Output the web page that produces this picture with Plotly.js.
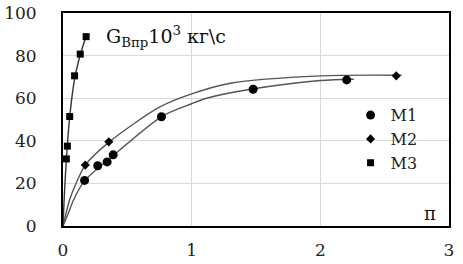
<!DOCTYPE html>
<html><head><meta charset="utf-8">
<script src="https://cdn.plot.ly/plotly-3.0.1.min.js"></script>
<style>html,body{margin:0;padding:0;background:#fff;}#chart{width:463px;height:264px;}</style>
</head><body><div id="chart"></div>
<script>
// Measured points
const m1X = [0.168, 0.27, 0.343, 0.39, 0.765, 1.478, 2.205];
const m1Y = [21.4, 28.3, 30.1, 33.4, 51.3, 64.2, 68.6];
const m2X = [0.173, 0.356, 2.59];
const m2Y = [28.6, 39.5, 70.5];
const m3X = [0.026, 0.034, 0.052, 0.09, 0.134, 0.18];
const m3Y = [31.5, 37.5, 51.4, 70.5, 80.7, 88.9];
// Trend curves
const c1X = [0, 0.05, 0.08, 0.17, 0.35, 0.77, 1.0, 1.13, 1.47, 2.0, 2.26];
const c1Y = [0, 7.3, 12, 21.4, 31, 51.5, 57.4, 60.2, 64.3, 68.3, 68.9];
const c2X = [0, 0.05, 0.1, 0.173, 0.36, 0.75, 1.0, 1.3, 2.0, 2.63];
const c2Y = [0, 12, 19.8, 28.6, 39.5, 55.8, 62, 67, 70.5, 70.8];
const c3X = [0, 0.01, 0.026, 0.05, 0.09, 0.135, 0.185];
const c3Y = [0, 14, 31, 50, 69, 80.5, 90];
const names = ["M1", "M2", "M3"];
const xTicks = [0, 1, 2, 3];
const yTicks = [0, 20, 40, 60, 80, 100];

const serif = "DejaVu Serif";
const lineStyle = {color: "#555", width: 1.4, shape: "spline", smoothing: 0.8};
const traces = [
  {x: c1X, y: c1Y, mode: "lines", line: lineStyle, showlegend: false, hoverinfo: "skip"},
  {x: c2X, y: c2Y, mode: "lines", line: lineStyle, showlegend: false, hoverinfo: "skip"},
  {x: c3X, y: c3Y, mode: "lines", line: Object.assign({}, lineStyle, {color: "#333"}), showlegend: false, hoverinfo: "skip"},
  {x: m1X, y: m1Y, mode: "markers", name: names[0], marker: {symbol: "circle", size: 9, color: "#000"}},
  {x: m2X, y: m2Y, mode: "markers", name: names[1], marker: {symbol: "diamond", size: 7, color: "#000"}},
  {x: m3X, y: m3Y, mode: "markers", name: names[2], marker: {symbol: "square", size: 7, color: "#000"}}
];
const layout = {
  width: 463, height: 264,
  margin: {l: 63, r: 14, t: 13, b: 38, pad: 0},
  paper_bgcolor: "#fff", plot_bgcolor: "#fff",
  font: {family: serif, size: 17, color: "#222"},
  showlegend: true,
  legend: {x: 0.745, y: 0.6, xanchor: "left", yanchor: "top", bgcolor: "rgba(0,0,0,0)",
    font: {family: serif, size: 16, color: "#222"}, itemwidth: 30, tracegroupgap: 0},
  xaxis: {range: [0, 3], tickvals: xTicks, ticktext: xTicks.map(String), showgrid: true,
    gridcolor: "#d9d9d9", gridwidth: 1, zeroline: false, showline: true, mirror: true,
    linecolor: "#000", linewidth: 2, ticks: "", ticklabelstandoff: 8, fixedrange: true},
  yaxis: {range: [0, 100], tickvals: yTicks, ticktext: yTicks.map(String), showgrid: true,
    gridcolor: "#d9d9d9", gridwidth: 1, zeroline: false, showline: true, mirror: true,
    linecolor: "#000", linewidth: 2, ticks: "", ticklabelstandoff: 21, fixedrange: true},
  annotations: [
    {x: 0.315, y: 89, xref: "x", yref: "y", xanchor: "left", yanchor: "middle", showarrow: false,
     text: "G<sub>Впр</sub>10<sup>3</sup> кг\\с", font: {family: serif, size: 19, color: "#111"}},
    {x: 2.85, y: 6, xref: "x", yref: "y", xanchor: "center", yanchor: "middle", showarrow: false,
     text: "π", font: {family: serif, size: 18, color: "#111"}}
  ]
};
Plotly.newPlot("chart", traces, layout, {staticPlot: true, displayModeBar: false});
</script></body></html>
